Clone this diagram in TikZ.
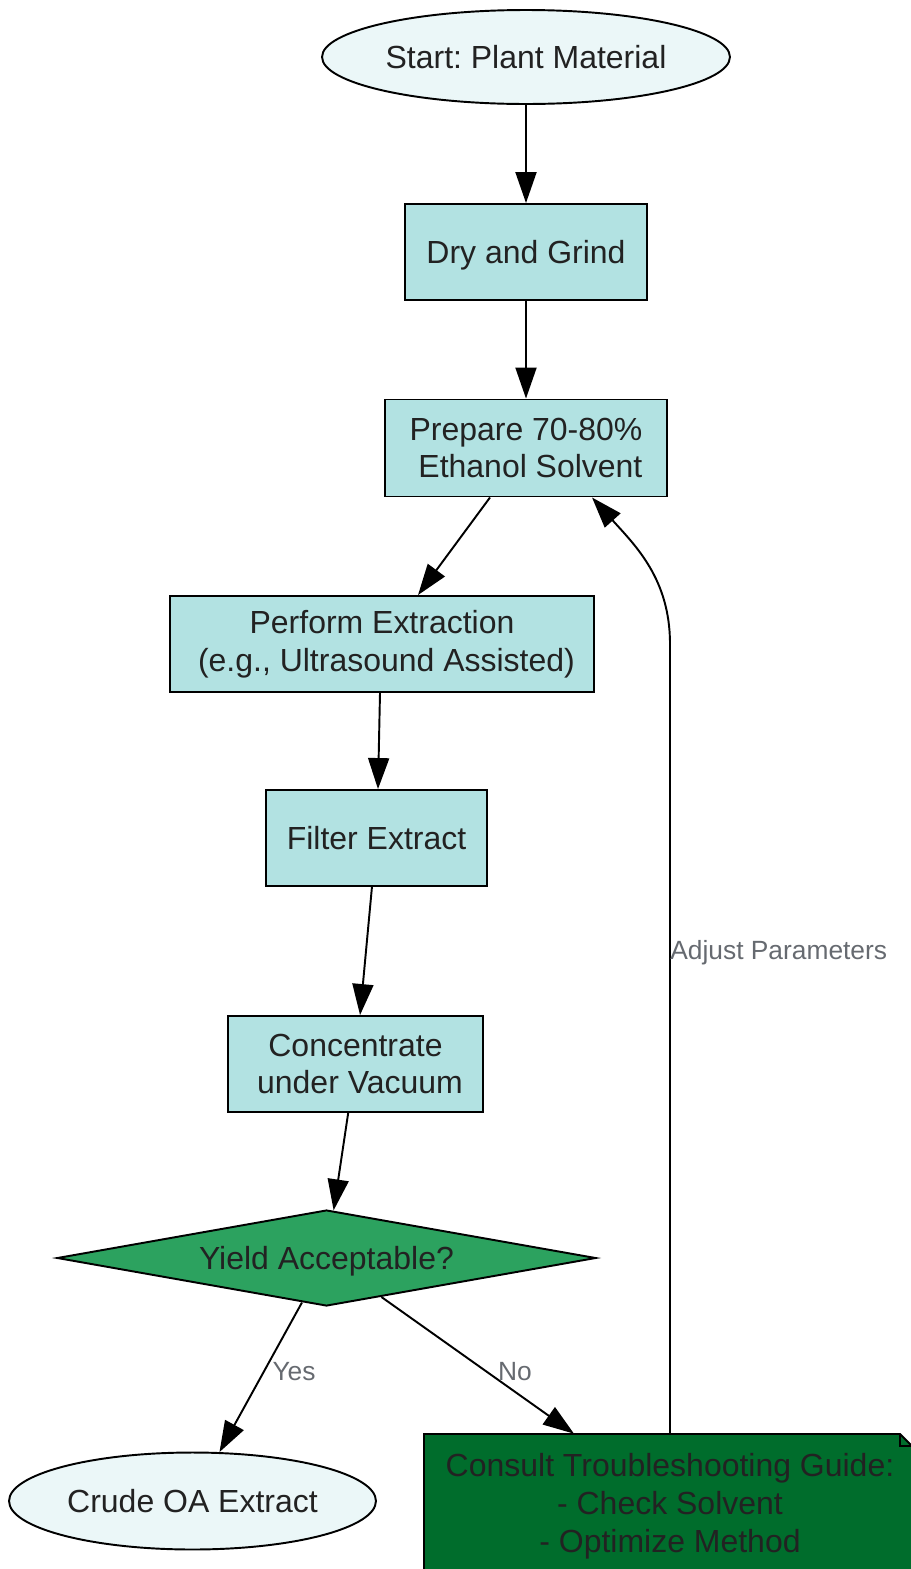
\documentclass[tikz,border=0pt]{standalone}
\usepackage{fontspec}
\setmainfont{Liberation Sans}
\usetikzlibrary{calc}
\usetikzlibrary{arrows.meta}
\usetikzlibrary{shapes.geometric}
\frenchspacing

\definecolor{startfill}{HTML}{EBF7F8}
\definecolor{boxfill}{HTML}{B2E2E2}
\definecolor{decfill}{HTML}{2CA25F}
\definecolor{notefill}{HTML}{006D2C}
\definecolor{txt}{HTML}{222222}
\definecolor{lbl}{HTML}{666A70}

\tikzset{
  stepbox/.style={draw, line width=1.1pt, fill=boxfill, rectangle, inner sep=0pt, minimum height=1.92cm, align=center, text=txt},
  endpoint/.style={draw, line width=1.1pt, fill=startfill, ellipse, inner sep=0pt, text=txt},
  oneline/.style={text height=16.7pt, text depth=3.8pt},
  edgelbl/.style={text=lbl, font=\fontsize{15}{18}\selectfont, inner sep=0pt},
  arr/.style={line width=1.1pt, -{Triangle[length=0.62cm, width=0.42cm]}},
}

\begin{document}
\begin{tikzpicture}[x=0.02cm, y=-0.02cm, font=\fontsize{18.2}{21.6}\selectfont]

    \clip (0, 0) rectangle (911, 1569);
    
    \node[endpoint, oneline, minimum width=8.16cm, minimum height=1.88cm] (start) at (526, 57) {Start: Plant Material};
    \node[stepbox, oneline, minimum width=4.84cm] (dry) at (526, 252) {Dry and Grind};
    \node[stepbox, minimum width=5.64cm, minimum height=1.94cm] (prep) at (526, 448) {Prepare 70-80\%~\\~Ethanol Solvent};
    \node[stepbox, minimum width=8.48cm] (perform) at (382, 644) {Perform Extraction~\\~(e.g., Ultrasound Assisted)};
    \node[stepbox, oneline, minimum width=4.42cm] (filter) at (376.5, 838) {Filter Extract};
    \node[stepbox, minimum width=5.10cm] (conc) at (355.5, 1064) {Concentrate~\\~under Vacuum};
    \node[draw, diamond, oneline, shape aspect=5.6, fill=decfill, line width=1.1pt, inner sep=0pt,
          minimum width=10.78cm, minimum height=1.92cm, text=txt] (dec) at (326.5, 1258) {Yield Acceptable?};
    \node[endpoint, oneline, minimum width=7.34cm, minimum height=1.94cm] (crude) at (192.5, 1501) {Crude OA Extract};
    
    % note shape with folded corner
    \filldraw[line width=1.1pt, fill=notefill] (424, 1580) -- (424, 1434) -- (900, 1434) -- (912, 1446) -- (912, 1580) -- cycle;
    \draw[line width=1.1pt] (900, 1434) -- (900, 1446) -- (912, 1446);
    \node[minimum width=9.76cm, minimum height=2.88cm, inner sep=0pt, align=center, text=txt] (guide) at (670, 1506)
        {Consult Troubleshooting Guide:\\- Check Solvent\\- Optimize Method};
    
    \draw[arr] (start) -- (dry);
    \draw[arr] (dry) -- (prep);
    \draw[arr] ($(prep.south)+(-36, 0)$) -- ($(perform.north)+(36, 0)$);
    \draw[arr] ($(perform.south)+(-2, 0)$) -- ($(filter.north)+(1.5, 0)$);
    \draw[arr] (filter) -- (conc);
    \draw[arr] (conc) -- (dec);
    \draw[arr] (dec) -- (crude);
    \draw[arr] (dec) -- ($(guide.north)+(-96, 0)$);
    \draw[arr] (guide.north) -- (guide.north |- perform.center) to[out=90, in=-48] ($(prep.south)+(66, 0)$);
    
    \node[edgelbl] (yeslbl) at (294, 1372) {Yes};
    \node[edgelbl] (nolbl) at (515, 1372) {No};
    \node[edgelbl, anchor=west] (adjlbl) at (670, 953) {Adjust Parameters};
    
\end{tikzpicture}
\end{document}
